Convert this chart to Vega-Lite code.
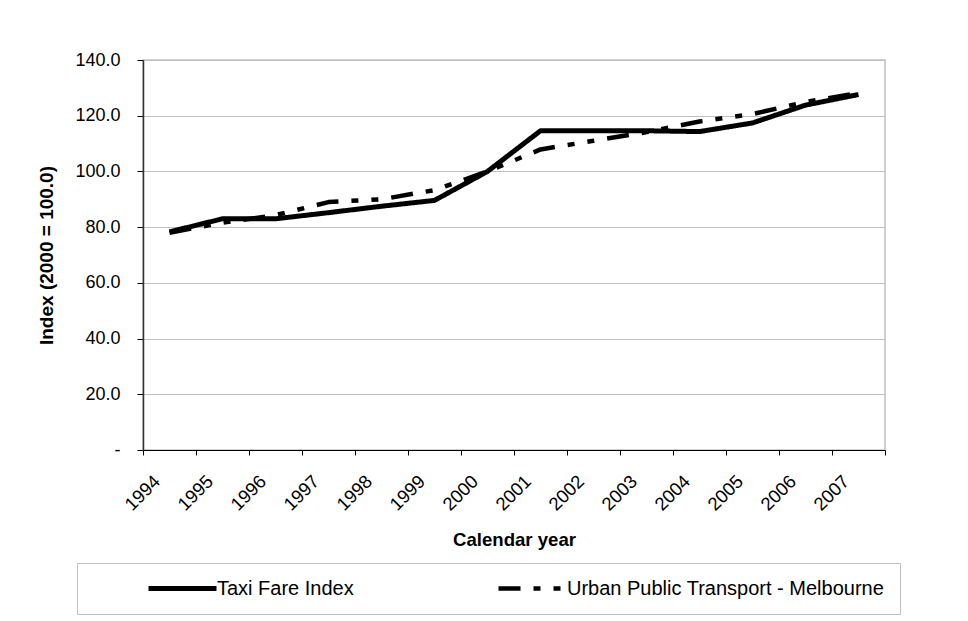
{
  "$schema": "https://vega.github.io/schema/vega-lite/v6.json",
  "width": 742,
  "height": 390,
  "autosize": {"type": "none"},
  "padding": {"left": 143, "top": 60, "right": 83, "bottom": 171},
  "background": "white",
  "data": {
    "values": [
      {"year": "1994", "series": "Taxi Fare Index", "index": 78.3},
      {"year": "1995", "series": "Taxi Fare Index", "index": 83.0},
      {"year": "1996", "series": "Taxi Fare Index", "index": 83.0},
      {"year": "1997", "series": "Taxi Fare Index", "index": 85.2},
      {"year": "1998", "series": "Taxi Fare Index", "index": 87.5},
      {"year": "1999", "series": "Taxi Fare Index", "index": 89.6},
      {"year": "2000", "series": "Taxi Fare Index", "index": 100.0},
      {"year": "2001", "series": "Taxi Fare Index", "index": 114.6},
      {"year": "2002", "series": "Taxi Fare Index", "index": 114.6},
      {"year": "2003", "series": "Taxi Fare Index", "index": 114.6},
      {"year": "2004", "series": "Taxi Fare Index", "index": 114.3},
      {"year": "2005", "series": "Taxi Fare Index", "index": 117.4},
      {"year": "2006", "series": "Taxi Fare Index", "index": 123.8},
      {"year": "2007", "series": "Taxi Fare Index", "index": 127.6},
      {"year": "1994", "series": "Urban Public Transport - Melbourne", "index": 78.0},
      {"year": "1995", "series": "Urban Public Transport - Melbourne", "index": 81.6},
      {"year": "1996", "series": "Urban Public Transport - Melbourne", "index": 84.3},
      {"year": "1997", "series": "Urban Public Transport - Melbourne", "index": 89.0},
      {"year": "1998", "series": "Urban Public Transport - Melbourne", "index": 90.0},
      {"year": "1999", "series": "Urban Public Transport - Melbourne", "index": 93.3},
      {"year": "2000", "series": "Urban Public Transport - Melbourne", "index": 100.0},
      {"year": "2001", "series": "Urban Public Transport - Melbourne", "index": 107.9},
      {"year": "2002", "series": "Urban Public Transport - Melbourne", "index": 111.0},
      {"year": "2003", "series": "Urban Public Transport - Melbourne", "index": 114.1},
      {"year": "2004", "series": "Urban Public Transport - Melbourne", "index": 117.9},
      {"year": "2005", "series": "Urban Public Transport - Melbourne", "index": 120.6},
      {"year": "2006", "series": "Urban Public Transport - Melbourne", "index": 124.9},
      {"year": "2007", "series": "Urban Public Transport - Melbourne", "index": 128.2}
    ]
  },
  "mark": {"type": "line", "color": "black", "strokeJoin": "round", "strokeCap": "butt"},
  "encoding": {
    "x": {
      "field": "year",
      "type": "ordinal",
      "bandPosition": 0.5,
      "scale": {"type": "band", "paddingInner": 0, "paddingOuter": 0},
      "axis": {
        "title": "Calendar year",
        "grid": false,
        "tickBand": "extent",
        "tickSize": 5,
        "tickColor": "black",
        "domainColor": "black",
        "domainWidth": 1,
        "labelAngle": -45,
        "labelAlign": "right",
        "labelBaseline": "middle",
        "labelPadding": 23,
        "labelOffset": -13,
        "labelFontSize": 18.5,
        "labelColor": "black",
        "titleFontSize": 18.6,
        "titleFontWeight": "bold",
        "titleColor": "black",
        "titleBaseline": "alphabetic",
        "titleY": 95
      }
    },
    "y": {
      "field": "index",
      "type": "quantitative",
      "scale": {"domain": [0, 140], "nice": false},
      "axis": {
        "title": "Index (2000 = 100.0)",
        "values": [0, 20, 40, 60, 80, 100, 120, 140],
        "labelExpr": "datum.value == 0 ? '-\u00a0\u00a0\u00a0\u00a0\u00a0' : format(datum.value, '.1f')",
        "grid": true,
        "gridColor": "#c0c0c0",
        "gridWidth": 1,
        "tickSize": 6,
        "tickColor": "black",
        "domainColor": "#333333",
        "domainWidth": 1.5,
        "labelPadding": 17,
        "labelFontSize": 18,
        "labelColor": "black",
        "titleFontSize": 19,
        "titleFontWeight": "bold",
        "titleColor": "black",
        "titleBaseline": "alphabetic",
        "titleAngle": -90,
        "titleX": -91,
        "titleY": 195
      }
    },
    "strokeDash": {
      "field": "series",
      "type": "nominal",
      "scale": {
        "domain": ["Taxi Fare Index", "Urban Public Transport - Melbourne"],
        "range": [[1, 0], [22, 13, 7, 13, 7, 13]]
      },
      "legend": {
        "title": null,
        "orient": "none",
        "legendX": -66,
        "legendY": 503,
        "direction": "horizontal",
        "columns": 2,
        "columnPadding": 88,
        "padding": 15,
        "clipHeight": 21,
        "strokeColor": "#c0c0c0",
        "fillColor": "white",
        "symbolType": "stroke",
        "symbolSize": 4624,
        "symbolStrokeWidth": 5,
        "symbolStrokeColor": "black",
        "symbolOffset": 54,
        "labelOffset": -2,
        "labelFontSize": 20,
        "labelColor": "black",
        "labelLimit": 700
      }
    },
    "strokeWidth": {
      "field": "series",
      "type": "ordinal",
      "scale": {
        "domain": ["Taxi Fare Index", "Urban Public Transport - Melbourne"],
        "range": [5, 4.5]
      },
      "legend": null
    }
  },
  "config": {
    "font": "Liberation Sans",
    "view": {"stroke": "#c0c0c0", "strokeWidth": 1.5}
  }
}
